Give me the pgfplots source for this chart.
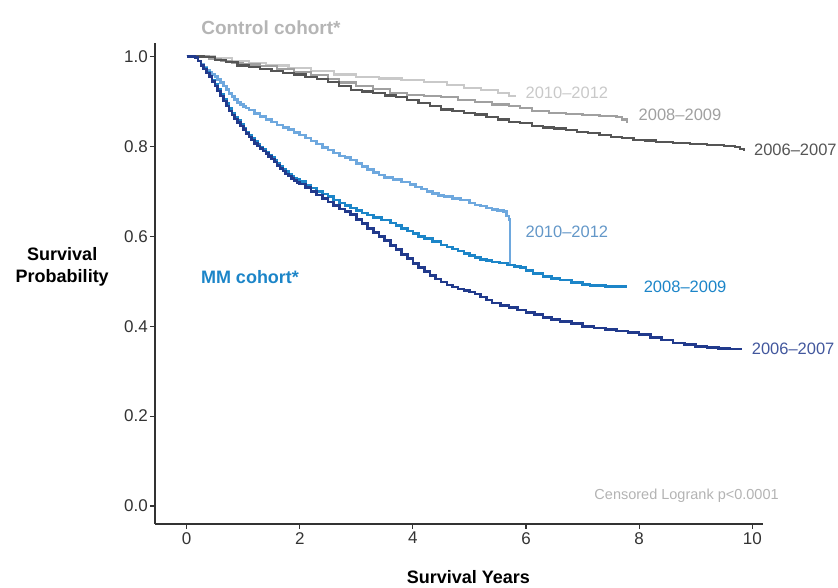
\documentclass[border=0pt]{standalone}
\usepackage{fontspec}
\setmainfont{Liberation Sans}
\usepackage{pgfplots}
\pgfplotsset{compat=1.18}
\definecolor{ctrlA}{HTML}{C9C9C9}
\definecolor{ctrlB}{HTML}{A0A0A0}
\definecolor{ctrlC}{HTML}{555555}
\definecolor{mmA}{HTML}{6EA8DE}
\definecolor{mmB}{HTML}{1C85C8}
\definecolor{mmC}{HTML}{213A8C}
\definecolor{axisgray}{HTML}{333333}
\begin{document}
\begin{tikzpicture}
\begin{axis}[
    name=ax,
    scale only axis,
    width=608pt, height=481pt,
    xmin=-0.56, xmax=10.19,
    ymin=-0.04, ymax=1.03,
    axis x line*=bottom, axis y line*=left,
    axis line style={axisgray, line width=1.3pt},
    xtick={0,2,4,6,8,10},
    ytick={0,0.2,0.4,0.6,0.8,1.0},
    tick align=outside,
    major tick length=5pt,
    tick style={axisgray, line width=1.1pt},
    tick label style={font=\fontsize{17}{17}\selectfont, text=axisgray},
    /pgf/number format/assume math mode=true,
    yticklabel style={/pgf/number format/fixed, /pgf/number format/fixed zerofill, /pgf/number format/precision=1, inner sep=2pt},
    xticklabel style={inner sep=3pt},
    clip=false,
    const plot,
    every axis plot/.append style={no marks},
  ]
% control cohort
\addplot[ctrlA, line width=2.2pt] coordinates {
 (0,1.0) (0.5,0.996) (0.8,0.99) (1.1,0.985) (1.4,0.98) (1.8,0.974) (2.2,0.968) (2.6,0.96)
 (3.0,0.955) (3.4,0.951) (3.8,0.948) (4.2,0.943) (4.6,0.936) (4.9,0.93) (5.2,0.925)
 (5.5,0.918) (5.7,0.912) (5.8,0.91)};
\addplot[ctrlB, line width=2.2pt] coordinates {
 (0,1.0) (0.4,0.995) (0.6,0.99) (0.8,0.985) (1.0,0.982) (1.3,0.978) (1.6,0.972) (1.9,0.966)
 (2.2,0.958) (2.5,0.95) (2.7,0.942) (3.0,0.935) (3.3,0.927) (3.6,0.919) (3.9,0.915)
 (4.2,0.912) (4.5,0.909) (4.8,0.904) (5.1,0.898) (5.4,0.893) (5.7,0.889) (5.9,0.886)
 (6.1,0.878) (6.4,0.874) (6.7,0.872) (7.0,0.87) (7.3,0.868) (7.6,0.866) (7.7,0.86) (7.79,0.852)};
\addplot[ctrlC, line width=2.2pt] coordinates {
 (0,1.0) (0.3,0.998) (0.5,0.993) (0.7,0.987) (0.9,0.98) (1.1,0.977) (1.3,0.973) (1.5,0.968)
 (1.7,0.963) (1.9,0.96) (2.1,0.955) (2.3,0.95) (2.5,0.944) (2.7,0.934) (2.9,0.926)
 (3.1,0.922) (3.3,0.918) (3.5,0.913) (3.7,0.91) (3.9,0.903) (4.1,0.896) (4.3,0.889)
 (4.5,0.882) (4.7,0.878) (4.9,0.875) (5.1,0.871) (5.3,0.866) (5.5,0.86) (5.7,0.855)
 (5.9,0.852) (6.1,0.846) (6.3,0.842) (6.5,0.84) (6.7,0.836) (6.9,0.832) (7.1,0.83)
 (7.3,0.826) (7.5,0.82) (7.7,0.818) (7.9,0.815) (8.1,0.813) (8.3,0.81) (8.6,0.807)
 (8.9,0.805) (9.2,0.803) (9.5,0.801) (9.7,0.799) (9.78,0.795) (9.85,0.79)};
% MM cohort
\addplot[mmA, line width=2.6pt] coordinates {
 (0,1.0) (0.15,0.998) (0.2,0.99) (0.25,0.983) (0.3,0.977) (0.35,0.97) (0.4,0.964) (0.45,0.96)
 (0.5,0.955) (0.55,0.949) (0.6,0.942) (0.65,0.934) (0.7,0.926) (0.75,0.918) (0.8,0.911)
 (0.85,0.904) (0.9,0.898) (0.95,0.893) (1.0,0.889) (1.05,0.885) (1.1,0.881) (1.2,0.873)
 (1.3,0.866) (1.4,0.86) (1.5,0.854) (1.6,0.848) (1.7,0.842) (1.8,0.837) (1.9,0.831)
 (2.0,0.825) (2.1,0.819) (2.2,0.812) (2.3,0.805) (2.4,0.798) (2.5,0.792) (2.6,0.785)
 (2.7,0.779) (2.8,0.775) (2.9,0.77) (3.0,0.762) (3.1,0.755) (3.2,0.748) (3.3,0.742)
 (3.4,0.736) (3.5,0.731) (3.65,0.726) (3.8,0.721) (3.95,0.715) (4.05,0.71) (4.15,0.705)
 (4.25,0.7) (4.35,0.695) (4.45,0.691) (4.55,0.688) (4.7,0.684) (4.84,0.681) (5.0,0.674)
 (5.1,0.67) (5.2,0.667) (5.3,0.663) (5.4,0.66) (5.5,0.658) (5.6,0.655) (5.66,0.645)
 (5.7,0.637) (5.72,0.536) (5.74,0.536)};
\addplot[mmB, line width=2.6pt] coordinates {
 (0,1.0) (0.15,0.998) (0.2,0.99) (0.25,0.981) (0.3,0.973) (0.35,0.965) (0.4,0.957) (0.45,0.947)
 (0.5,0.937) (0.55,0.926) (0.6,0.915) (0.65,0.905) (0.7,0.895) (0.75,0.884) (0.8,0.874)
 (0.85,0.865) (0.9,0.857) (0.95,0.849) (1.0,0.84) (1.05,0.832) (1.1,0.825) (1.15,0.818)
 (1.2,0.811) (1.25,0.805) (1.3,0.799) (1.35,0.793) (1.4,0.787) (1.45,0.781) (1.5,0.775)
 (1.55,0.769) (1.6,0.763) (1.65,0.756) (1.7,0.75) (1.75,0.744) (1.8,0.739) (1.85,0.734)
 (1.9,0.73) (1.95,0.726) (2.0,0.722) (2.1,0.714) (2.2,0.707) (2.3,0.7) (2.4,0.694)
 (2.5,0.688) (2.6,0.681) (2.7,0.674) (2.8,0.668) (2.9,0.663) (3.0,0.657) (3.1,0.652)
 (3.2,0.647) (3.3,0.642) (3.45,0.636) (3.6,0.63) (3.7,0.624) (3.8,0.618) (3.9,0.612)
 (4.0,0.606) (4.1,0.6) (4.2,0.595) (4.35,0.588) (4.5,0.581) (4.6,0.576) (4.7,0.572)
 (4.8,0.567) (4.9,0.562) (5.0,0.557) (5.1,0.553) (5.2,0.549) (5.3,0.546) (5.4,0.543)
 (5.53,0.541) (5.67,0.536) (5.8,0.533) (5.9,0.53) (6.0,0.524) (6.12,0.517) (6.3,0.51)
 (6.45,0.506) (6.6,0.503) (6.8,0.497) (7.0,0.493) (7.13,0.49) (7.4,0.488) (7.79,0.488)};
\addplot[mmC, line width=2.6pt] coordinates {
 (0,1.0) (0.15,0.998) (0.2,0.99) (0.25,0.98) (0.3,0.972) (0.35,0.963) (0.4,0.955) (0.45,0.945)
 (0.5,0.934) (0.55,0.923) (0.6,0.912) (0.65,0.901) (0.7,0.89) (0.75,0.879) (0.8,0.87)
 (0.85,0.861) (0.9,0.853) (0.95,0.845) (1.0,0.837) (1.05,0.829) (1.1,0.821) (1.15,0.814)
 (1.2,0.807) (1.25,0.801) (1.3,0.795) (1.35,0.79) (1.4,0.784) (1.45,0.778) (1.5,0.772)
 (1.55,0.765) (1.6,0.758) (1.65,0.751) (1.7,0.745) (1.75,0.739) (1.8,0.734) (1.85,0.729)
 (1.9,0.724) (1.95,0.72) (2.0,0.716) (2.1,0.708) (2.2,0.7) (2.3,0.692) (2.4,0.684)
 (2.5,0.676) (2.6,0.668) (2.7,0.661) (2.8,0.655) (2.9,0.648) (3.0,0.638) (3.1,0.628)
 (3.2,0.618) (3.3,0.608) (3.4,0.599) (3.5,0.59) (3.6,0.58) (3.7,0.57) (3.8,0.56)
 (3.9,0.55) (4.0,0.54) (4.1,0.531) (4.2,0.522) (4.3,0.513) (4.4,0.505) (4.5,0.498)
 (4.6,0.492) (4.7,0.487) (4.8,0.483) (4.9,0.479) (5.0,0.476) (5.1,0.472) (5.2,0.465)
 (5.3,0.458) (5.4,0.452) (5.55,0.446) (5.7,0.441) (5.85,0.436) (6.0,0.431) (6.15,0.426)
 (6.3,0.42) (6.45,0.415) (6.6,0.411) (6.8,0.406) (7.0,0.4) (7.2,0.396) (7.4,0.392)
 (7.6,0.389) (7.8,0.386) (8.0,0.382) (8.2,0.375) (8.4,0.369) (8.6,0.363) (8.8,0.359)
 (9.0,0.355) (9.2,0.352) (9.4,0.35) (9.6,0.349) (9.8,0.348)};
% curve labels
\node[anchor=west, text=ctrlA, font=\fontsize{16.5}{16.5}\selectfont] at (axis cs:5.93,0.919) {2010–2012};
\node[anchor=west, text=ctrlB, font=\fontsize{16.5}{16.5}\selectfont] at (axis cs:7.93,0.870) {2008–2009};
\node[anchor=west, text=ctrlC, font=\fontsize{16.5}{16.5}\selectfont] at (axis cs:9.97,0.792) {2006–2007};
\node[anchor=west, text=mmA!90!black, font=\fontsize{16.5}{16.5}\selectfont] at (axis cs:5.93,0.611) {2010–2012};
\node[anchor=west, text=mmB, font=\fontsize{16.5}{16.5}\selectfont] at (axis cs:8.02,0.487) {2008–2009};
\node[anchor=west, text=mmC!85!white, font=\fontsize{16.5}{16.5}\selectfont] at (axis cs:9.93,0.349) {2006–2007};
% titles and labels
\node[text=ctrlA!90!black, font=\fontsize{19}{19}\selectfont\bfseries] at (axis cs:1.49,1.064) {Control cohort*};
\node[text=mmB, font=\fontsize{18}{18}\selectfont\bfseries] at (axis cs:1.12,0.51) {MM cohort*};
\node[align=center, font=\fontsize{18}{22}\selectfont\bfseries] at (axis cs:-2.2,0.533) {Survival\\Probability};
\node[font=\fontsize{18}{18}\selectfont\bfseries] at (axis cs:4.98,-0.157) {Survival Years};
\node[anchor=east, text=ctrlB!80!white, font=\fontsize{14.5}{14.5}\selectfont] at (axis cs:10.53,0.022) {Censored Logrank p<0.0001};
\end{axis}
\pgfresetboundingbox
\path (ax.south west) ++(-155pt,-64pt) rectangle ++(838pt,588pt);
\end{tikzpicture}
\end{document}
